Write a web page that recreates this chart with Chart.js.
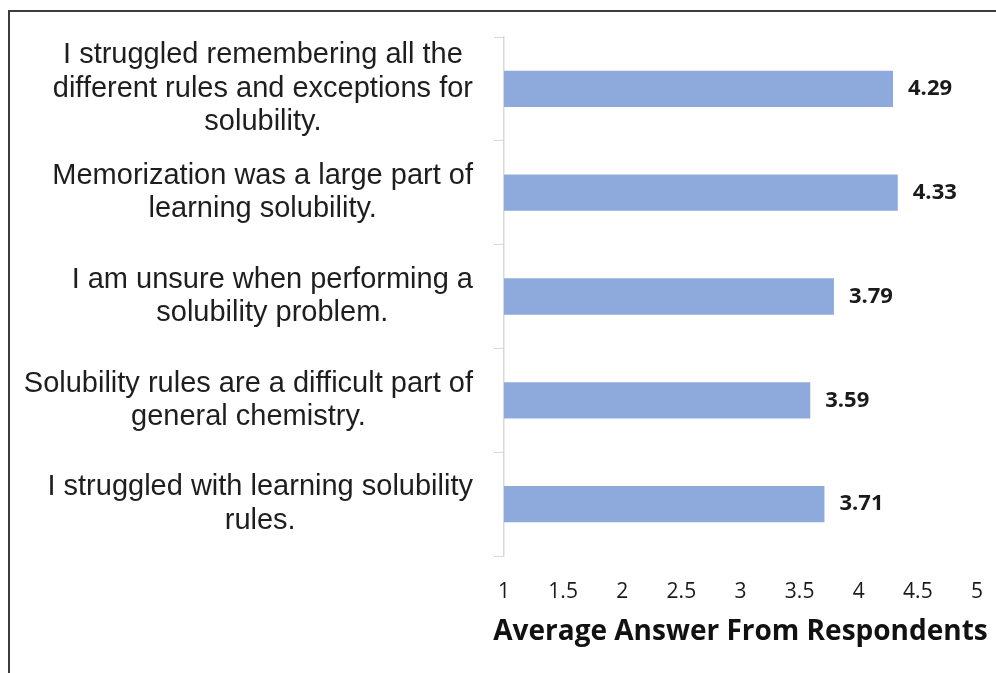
<!DOCTYPE html>
<html>
<head>
<meta charset="utf-8">
<script src="https://cdn.jsdelivr.net/npm/chart.js@4/dist/chart.umd.min.js"></script>
<style>
  html, body { margin: 0; padding: 0; background: #fff; }
  #wrap { position: relative; width: 996px; height: 673px; overflow: hidden; }
  #frame {
    position: absolute; left: 8px; top: 10px; width: 1100px; height: 800px;
    border-left: 2px solid #3c3c3c; border-top: 2px solid #3c3c3c;
  }
  #chart { position: absolute; left: 0; top: 0; }
</style>
</head>
<body>
<div id="wrap">
  <div id="frame"></div>
  <canvas id="chart" width="996" height="673"></canvas>
</div>
<script>
'use strict';

/* data */
const statements = [
  ['I struggled remembering all the', 'different rules and exceptions for', 'solubility.'],
  ['Memorization was a large part of', 'learning solubility.'],
  ['I am unsure when performing a', 'solubility problem.'],
  ['Solubility rules are a difficult part of', 'general chemistry.'],
  ['I struggled with learning solubility', 'rules.'],
];
const averages = [4.29, 4.33, 3.79, 3.59, 3.71];
const xTicks = [1, 1.5, 2, 2.5, 3, 3.5, 4, 4.5, 5];
const xTitle = 'Average Answer From Respondents';

const BAR_COLOR = '#8EA9DB';
const AXIS_GRAY = '#D9D9D9';

/* category labels: each block right aligned, lines centred inside the block */
const catLabels = {
  id: 'catLabels',
  afterDraw(chart) {
    const { ctx } = chart;
    const yScale = chart.scales.y;
    const right = 473, lh = 33.5;
    ctx.save();
    ctx.font = '29px "Liberation Sans", Arial, sans-serif';
    ctx.fillStyle = '#1e1e1e';
    ctx.textAlign = 'center';
    ctx.textBaseline = 'middle';
    statements.forEach((lines, i) => {
      const cy = yScale.getPixelForValue(i);
      const w = Math.max(...lines.map(l => ctx.measureText(l).width));
      const cx = right - w / 2;
      lines.forEach((l, k) => {
        ctx.fillText(l, cx, cy + (k - (lines.length - 1) / 2) * lh);
      });
    });
    ctx.restore();
  },
};

/* axis title: wider than the plot, so drawn here without squeezing */
const axisTitle = {
  id: 'axisTitle',
  afterDraw(chart) {
    const { ctx, chartArea } = chart;
    ctx.save();
    ctx.font = 'bold 28px "Open Sans", sans-serif';
    ctx.fillStyle = '#111';
    ctx.textAlign = 'center';
    ctx.textBaseline = 'middle';
    ctx.fillText(xTitle, (chartArea.left + chartArea.right) / 2, chartArea.bottom + 76);
    ctx.restore();
  },
};

/* value labels at the end of every bar */
const valueLabels = {
  id: 'valueLabels',
  afterDatasetsDraw(chart) {
    const { ctx } = chart;
    const meta = chart.getDatasetMeta(0);
    ctx.save();
    ctx.font = 'bold 22px "Open Sans", sans-serif';
    ctx.fillStyle = '#1a1a1a';
    ctx.textAlign = 'left';
    ctx.textBaseline = 'middle';
    meta.data.forEach((bar, i) => {
      ctx.fillText(averages[i].toFixed(2), bar.x + 15, bar.y);
    });
    ctx.restore();
  },
};

new Chart(document.getElementById('chart').getContext('2d'), {
  type: 'bar',
  data: {
    labels: statements.map(s => s.join(' ')),
    datasets: [{
      data: averages,
      backgroundColor: BAR_COLOR,
      borderWidth: 0,
      barPercentage: 0.35,
      categoryPercentage: 1,
    }],
  },
  options: {
    indexAxis: 'y',
    responsive: false,
    animation: false,
    layout: { padding: { left: 0, top: 37, right: 19, bottom: 0 } },
    plugins: {
      legend: { display: false },
      tooltip: { enabled: false },
    },
    scales: {
      x: {
        type: 'linear',
        min: 1, max: 5,
        afterBuildTicks: scale => { scale.ticks = xTicks.map(v => ({ value: v })); },
        afterFit: scale => {
          scale.height = 117;
          scale.paddingLeft = 0;
          scale.paddingRight = 0;
        },
        grid: { display: false, drawTicks: false },
        border: { display: false },
        ticks: {
          padding: 23,
          color: '#1a1a1a',
          font: { family: '"Open Sans", sans-serif', size: 21 },
          maxRotation: 0,
          callback: v => String(v),
        },
      },
      y: {
        type: 'category',
        afterFit: scale => { scale.width = 504; },
        grid: {
          offset: true,
          drawOnChartArea: false,
          drawTicks: true,
          tickLength: 10,
          color: AXIS_GRAY,
        },
        border: { display: true, color: AXIS_GRAY, width: 1.5 },
        ticks: { display: false },
      },
    },
  },
  plugins: [catLabels, axisTitle, valueLabels],
});
</script>
</body>
</html>
